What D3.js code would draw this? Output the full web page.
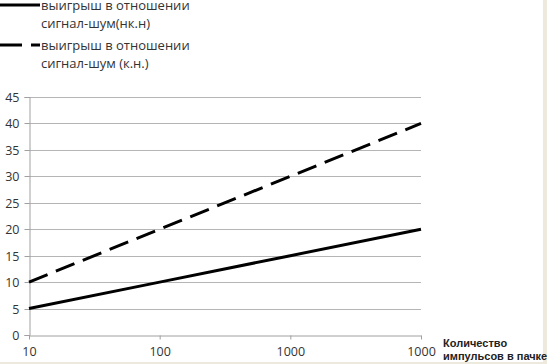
<!DOCTYPE html>
<html><head><meta charset="utf-8">
<script src="https://cdn.jsdelivr.net/npm/d3@7"></script>
<style>html,body{margin:0;padding:0;background:#fff;}svg{display:block;}</style>
</head><body>
<script>
const categories = ["10", "100", "1000", "1000"];
const seriesNames = ["выигрыш в отношении сигнал-шум(нк.н)", "выигрыш в отношении сигнал-шум (к.н.)"];
const solidValues = [5, 10, 15, 20];
const dashedValues = [10, 20, 30, 40];
const yTicks = [0, 5, 10, 15, 20, 25, 30, 35, 40, 45];
const xTitle = ["Количество", "импульсов в пачке"];

const W = 547, H = 364;
const svg = d3.select("body").append("svg").attr("width", W).attr("height", H);
svg.append("rect").attr("width", W).attr("height", H).attr("fill", "#ede9dd");
svg.append("rect").attr("width", 543).attr("height", 362).attr("fill", "#fff");

const x = d3.scalePoint().domain(d3.range(categories.length)).range([29, 421]);
const y = d3.scaleLinear().domain([0, 45]).range([335, 97]);
const font = "'Open Sans', 'Noto Sans', sans-serif";

// gridlines
svg.append("g").selectAll("line").data(yTicks.filter(d => d > 0)).join("line")
  .attr("x1", 29).attr("x2", 421).attr("y1", d => Math.round(y(d)) + 0.5).attr("y2", d => Math.round(y(d)) + 0.5)
  .attr("stroke", "#b5b5b5").attr("stroke-width", 1);

// y axis
const ya = svg.append("g").attr("transform", "translate(29.5,0)")
  .call(d3.axisLeft(y).tickValues(yTicks).tickSize(5).tickPadding(5));
ya.select(".domain").attr("stroke", "#a0a0a0");
ya.selectAll(".tick line").attr("stroke", "#a0a0a0");
ya.selectAll("text").attr("font-family", font).attr("font-size", 12.5).attr("fill", "#333");
ya.selectAll(".tick").attr("transform", d => `translate(0,${Math.round(y(d)) + 0.5})`);

// x axis
const xa = svg.append("g").attr("transform", "translate(0,335.5)")
  .call(d3.axisBottom(x).tickFormat(i => categories[i]).tickSize(4).tickPadding(8).tickSizeOuter(0));
xa.select(".domain").attr("stroke", "#a0a0a0");
xa.selectAll(".tick line").attr("stroke", "#a0a0a0");
xa.selectAll("text").attr("font-family", font).attr("font-size", 12.5).attr("fill", "#333");

// lines
const line = d3.line().x((d, i) => x(i)).y(d => y(d));
svg.append("path").datum(solidValues).attr("d", line).attr("fill", "none")
  .attr("stroke", "#000").attr("stroke-width", 3);
svg.append("path").datum(dashedValues).attr("d", line).attr("fill", "none")
  .attr("stroke", "#000").attr("stroke-width", 3).attr("stroke-dasharray", "20,9");

// legend
const legend = [
  {name: seriesNames[0], dash: null, y: 5},
  {name: seriesNames[1], dash: "22,9", y: 45}
];
legend.forEach(l => {
  svg.append("line").attr("x1", 0).attr("x2", 40).attr("y1", l.y).attr("y2", l.y)
    .attr("stroke", "#000").attr("stroke-width", 3).attr("stroke-dasharray", l.dash);
  const words = l.name.split(" ");
  const t1 = words.slice(0, 3).join(" "), t2 = words.slice(3).join(" ");
  svg.append("text").attr("x", 41).attr("y", l.y + 5).text(t1)
    .attr("font-family", font).attr("font-size", 13).attr("fill", "#333");
  svg.append("text").attr("x", 41).attr("y", l.y + 23).text(t2)
    .attr("font-family", font).attr("font-size", 13).attr("fill", "#333");
});

// x title
const tf = "'Liberation Sans Narrow', 'Liberation Sans', sans-serif";
svg.append("text").attr("x", 443).attr("y", 347).text(xTitle[0])
  .attr("font-family", tf).attr("font-weight", "bold").attr("font-size", 11).attr("fill", "#222");
svg.append("text").attr("x", 443).attr("y", 360).text(xTitle[1])
  .attr("font-family", tf).attr("font-weight", "bold").attr("font-size", 11).attr("fill", "#222");
</script>
</body></html>
